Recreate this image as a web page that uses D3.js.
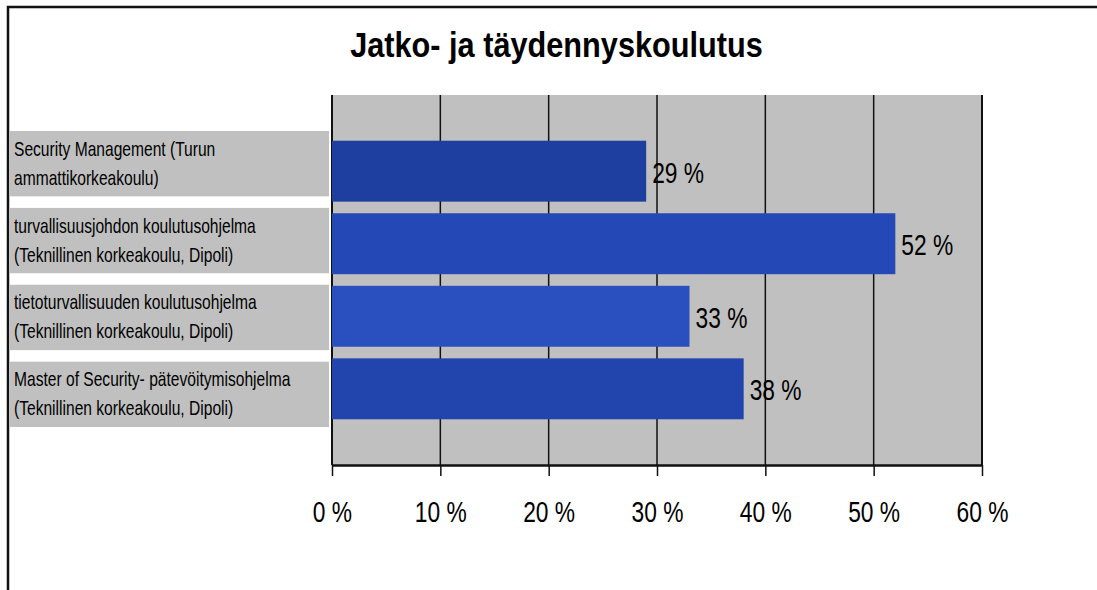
<!DOCTYPE html>
<html>
<head>
<meta charset="utf-8">
<script src="https://cdn.jsdelivr.net/npm/d3@7"></script>
<style>
  body { margin: 0; background: #fff; }
  svg { display: block; font-family: "Liberation Sans", Arial, sans-serif; }
</style>
</head>
<body>
<div id="chart"></div>
<script>
const width = 1097,
    height = 590,
    plot = { left: 332, right: 982, top: 95, bottom: 465 };

// data
const titleText = "Jatko- ja täydennyskoulutus";
const categories = [
    ["Security Management (Turun", "ammattikorkeakoulu)"],
    ["turvallisuusjohdon koulutusohjelma", "(Teknillinen korkeakoulu, Dipoli)"],
    ["tietoturvallisuuden koulutusohjelma", "(Teknillinen korkeakoulu, Dipoli)"],
    ["Master of Security- pätevöitymisohjelma", "(Teknillinen korkeakoulu, Dipoli)"]
];
const values = [29, 52, 33, 38];
const tickValues = [0, 10, 20, 30, 40, 50, 60];

const barColors = ["#1f3fa0", "#2449b7", "#2a50c0", "#2245ad"];

const svg = d3.select("#chart")
    .append("svg")
    .attr("width", width)
    .attr("height", height);

// outer frame (cut at right & bottom)
svg.append("path")
    .attr("d", `M8,${height} V7 H${width}`)
    .attr("fill", "none")
    .attr("stroke", "#111")
    .attr("stroke-width", 2.5);

// title
svg.append("text")
    .attr("transform", `translate(${(350 + 763) / 2}, 57) scale(0.877, 1)`)
    .attr("text-anchor", "middle")
    .attr("font-weight", "bold")
    .attr("font-size", 35)
    .attr("fill", "#000")
    .text(titleText);

const idx = d3.range(values.length);

const x = d3.scaleLinear()
    .domain([0, 60])
    .range([plot.left, plot.right]);

const y = d3.scaleBand()
    .domain(idx)
    .range([plot.top, plot.bottom])
    .paddingInner(0.16)
    .paddingOuter(0.63);

const yLabel = d3.scaleBand()
    .domain(idx)
    .range([131, 427])
    .paddingInner(0.15);

// plot background
svg.append("rect")
    .attr("x", plot.left)
    .attr("y", plot.top)
    .attr("width", plot.right - plot.left)
    .attr("height", plot.bottom - plot.top)
    .attr("fill", "#c0c0c0");

// gridlines
svg.append("g")
    .selectAll("line")
    .data(tickValues)
    .join("line")
    .attr("x1", d => x(d))
    .attr("x2", d => x(d))
    .attr("y1", plot.top)
    .attr("y2", plot.bottom)
    .attr("stroke", "#111")
    .attr("stroke-width", d => (d === 0 || d === 60) ? 2 : 1.5);

// category label boxes
const labels = svg.append("g")
    .selectAll("g")
    .data(idx)
    .join("g");

labels.append("rect")
    .attr("x", 10)
    .attr("y", d => yLabel(d))
    .attr("width", 319)
    .attr("height", yLabel.bandwidth())
    .attr("fill", "#c0c0c0");

labels.each(function (d) {
    const cy = yLabel(d) + yLabel.bandwidth() / 2;
    categories[d].forEach((line, i) => {
        d3.select(this).append("text")
            .attr("transform", `translate(14, ${cy - 8 + i * 29}) scale(0.78, 1)`)
            .attr("font-size", 20)
            .attr("fill", "#000")
            .text(line);
    });
});

// bars
svg.append("g")
    .selectAll("rect")
    .data(idx)
    .join("rect")
    .attr("x", x(0))
    .attr("y", d => y(d))
    .attr("width", d => x(values[d]) - x(0))
    .attr("height", y.bandwidth())
    .attr("fill", d => barColors[d]);

// value labels
svg.append("g")
    .selectAll("text")
    .data(idx)
    .join("text")
    .attr("transform", d => `translate(${x(values[d]) + 6}, ${y(d) + y.bandwidth() / 2 + 11.5}) scale(0.76, 1)`)
    .attr("font-size", 30)
    .attr("fill", "#000")
    .text(d => values[d] + " %");

// x axis
const xAxis = d3.axisBottom(x)
    .tickValues(tickValues)
    .tickSize(11)
    .tickSizeOuter(0)
    .tickFormat(d => d + " %");

const xAxisGroup = svg.append("g")
    .attr("transform", `translate(0, ${plot.bottom})`)
    .call(xAxis);

xAxisGroup.select(".domain")
    .attr("stroke", "#111")
    .attr("stroke-width", 2.5);

xAxisGroup.selectAll(".tick line")
    .attr("stroke", "#111")
    .attr("stroke-width", 1.5);

xAxisGroup.selectAll(".tick text")
    .attr("font-family", "\"Liberation Sans\", Arial, sans-serif")
    .attr("font-size", 30)
    .attr("fill", "#000")
    .attr("y", 0)
    .attr("dy", 0)
    .attr("transform", "translate(0, 57) scale(0.76, 1)");
</script>
</body>
</html>
